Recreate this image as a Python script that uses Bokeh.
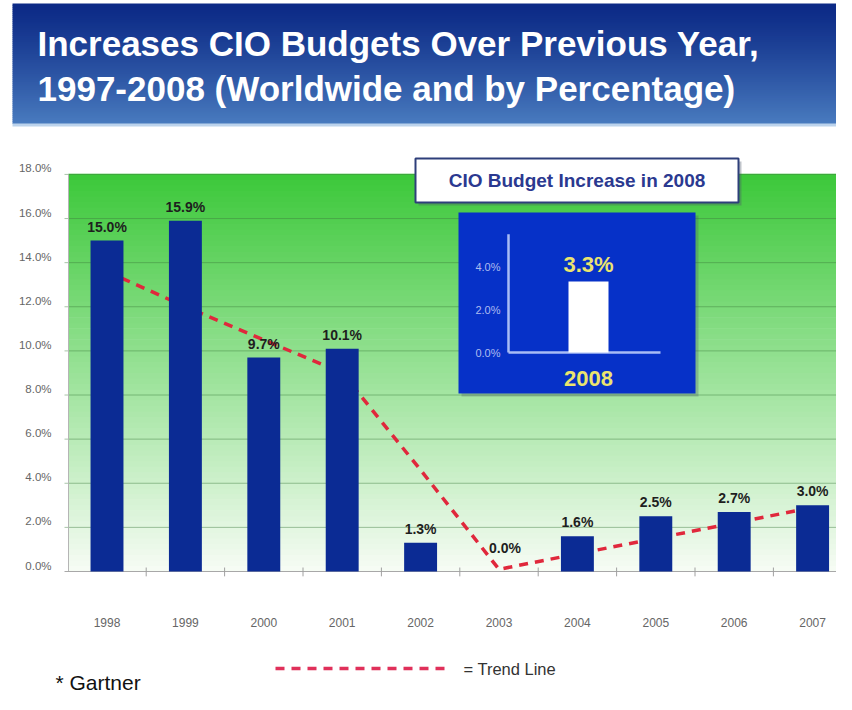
import numpy as np
from bokeh.plotting import figure
from bokeh.models import Range1d, ColumnDataSource
from bokeh.core.properties import value
from bokeh.embed import file_html
from bokeh.resources import INLINE

# ---------------- data ----------------
years = ["1998", "1999", "2000", "2001", "2002", "2003", "2004", "2005", "2006", "2007"]
increase = [15.0, 15.9, 9.7, 10.1, 1.3, 0.0, 1.6, 2.5, 2.7, 3.0]
trend = [13.6, 12.0, 10.5, 9.0, 4.6, 0.1, 0.8, 1.5, 2.2, 2.9]
y_ticks = [0, 2, 4, 6, 8, 10, 12, 14, 16, 18]
y_tick_labels = ["0.0%", "2.0%", "4.0%", "6.0%", "8.0%", "10.0%", "12.0%", "14.0%", "16.0%", "18.0%"]

inset_years = ["2008"]
inset_values = [3.3]
inset_ticks = [0, 2, 4]
inset_tick_labels = ["0.0%", "2.0%", "4.0%"]

title_lines = ["Increases CIO Budgets Over Previous Year,",
               "1997-2008 (Worldwide and by Percentage)"]
inset_title = "CIO Budget Increase in 2008"
legend_text = "= Trend Line"
source_note = "* Gartner"

# ---------------- layout (page pixels, y downward) ----------------
W, H = 836, 694
PLOT_L, PLOT_R = 68, W
ZERO_Y = 571.0
PX_PER_PCT = 22.06
CAT0_X = 106.5
CAT_STEP = 78.4

INSET_ZERO_Y = 352.0
INSET_PX_PER_PCT = 21.5
INSET_CAT_X = 588.0
INSET_STEP = 80.0

FONT = value("Liberation Sans")

p = figure(width=W, height=H, x_range=Range1d(0, W), y_range=Range1d(H, 0),
           x_axis_type=None, y_axis_type=None, output_backend="svg",
           toolbar_location=None, min_border=0, outline_line_color=None,
           background_fill_color="white", border_fill_color="white")
p.grid.visible = False

p.extra_x_ranges = {
    "yr": Range1d(-CAT0_X / CAT_STEP, (W - CAT0_X) / CAT_STEP),
    "ix": Range1d(-INSET_CAT_X / INSET_STEP, (W - INSET_CAT_X) / INSET_STEP),
}
p.extra_y_ranges = {
    "pct": Range1d((ZERO_Y - H) / PX_PER_PCT, ZERO_Y / PX_PER_PCT),
    "iy": Range1d((INSET_ZERO_Y - H) / INSET_PX_PER_PCT, INSET_ZERO_Y / INSET_PX_PER_PCT),
}


def blend(c0, c1, t):
    return "#%02x%02x%02x" % tuple(int(round(a + (b - a) * t)) for a, b in zip(c0, c1))


# ---------------- banner ----------------
nb = 60
bedges = np.linspace(3, 123, nb + 1)
bcols = [blend((12, 42, 134), (72, 122, 190), (k / (nb - 1)) ** 1.2) for k in range(nb)]
p.quad(left=12, right=W, top=bedges[:-1], bottom=bedges[1:] + 0.6, fill_color=bcols, line_color=None)
p.quad(left=12, right=W, top=123, bottom=126, fill_color="#bcd3ec", line_color=None)
p.text(x=[37, 37], y=[43, 88], text=title_lines, text_color="white", text_font=FONT,
       text_font_style="bold", text_font_size="35px", text_baseline="middle", text_align="left")

# ---------------- main plot background gradient ----------------
ng = 72
top_val = y_ticks[-1]
gedges = np.linspace(0, top_val, ng + 1)
gcols = [blend((247, 252, 245), (60, 200, 58), (k + 0.5) / ng) for k in range(ng)]
p.quad(left=PLOT_L, right=PLOT_R, bottom=gedges[:-1], top=gedges[1:] + 0.03,
       fill_color=gcols, line_color=None, y_range_name="pct")

# gridlines
p.segment(x0=PLOT_L - 4, x1=PLOT_R, y0=y_ticks[1:], y1=y_ticks[1:], line_color="#3d7d3d",
          line_alpha=0.45, line_width=1, y_range_name="pct")
# axis lines
p.segment(x0=PLOT_L, x1=PLOT_L, y0=0, y1=top_val, line_color="#b5b5b5", line_width=1, y_range_name="pct")
p.segment(x0=PLOT_L - 4, x1=PLOT_R, y0=0, y1=0, line_color="#a8a8a8", line_width=1, y_range_name="pct")
idx = list(range(len(years)))
bounds = [i + 0.5 for i in idx[:-1]]
p.segment(x0=bounds, x1=bounds, y0=-0.22, y1=0.18, line_color="#a0a0a0", line_width=1,
          x_range_name="yr", y_range_name="pct")

# y tick labels
p.text(x=PLOT_L - 17, y=y_ticks, text=y_tick_labels, y_range_name="pct", text_color="#666666",
       text_font=FONT, text_font_size="11.5px", text_align="right", text_baseline="middle", y_offset=-6)
# x tick labels
p.text(x=idx, y=[0] * len(idx), text=years, x_range_name="yr", y_range_name="pct",
       text_color="#666666", text_font=FONT, text_font_size="12px", text_align="center",
       text_baseline="middle", y_offset=51)

# trend line (behind bars)
p.line(x=idx, y=trend, x_range_name="yr", y_range_name="pct", line_color="#e0283c",
       line_width=3.5, line_dash="9 7")

# bars
src = ColumnDataSource(dict(i=idx, v=increase))
p.vbar(x="i", top="v", width=0.42, source=src, x_range_name="yr", y_range_name="pct",
       fill_color="#0b2b94", line_color=None)

nz = [k for k, v in enumerate(increase) if v > 0]
zz = [k for k, v in enumerate(increase) if v == 0]
p.text(x=[idx[k] for k in nz], y=[increase[k] for k in nz], text=[f"{increase[k]:.1f}%" for k in nz],
       x_range_name="yr", y_range_name="pct", text_color="#1e1e1e", text_font=FONT,
       text_font_style="bold", text_font_size="14px", text_align="center", text_baseline="middle",
       y_offset=-14)
p.text(x=[idx[k] for k in zz], y=[increase[k] for k in zz], text=[f"{increase[k]:.1f}%" for k in zz],
       x_range_name="yr", y_range_name="pct", text_color="#1e1e1e", text_font=FONT,
       text_font_style="bold", text_font_size="14px", text_align="center", text_baseline="middle",
       y_offset=-24, x_offset=6)

# ---------------- inset ----------------
# title box
p.quad(left=418, right=741, top=161, bottom=205, fill_color="#4a5568", fill_alpha=0.35, line_color=None)
p.quad(left=415, right=738, top=158, bottom=202, fill_color="white", line_color="#2e3f7a", line_width=2)
p.text(x=[576.5], y=[180], text=[inset_title], text_color="#2b3990", text_font=FONT,
       text_font_style="bold", text_font_size="19px", text_align="center", text_baseline="middle")
# blue panel
p.quad(left=461, right=698, top=215, bottom=396, fill_color="#4a5568", fill_alpha=0.3, line_color=None)
p.quad(left=458, right=695, top=212, bottom=393, fill_color="#0631c8", line_color=None)
# inset axes
p.segment(x0=508, x1=508, y0=0, y1=5.5, line_color="#a9bcf5", line_width=2.5, y_range_name="iy")
p.segment(x0=508, x1=660, y0=0, y1=0, line_color="#a9bcf5", line_width=2.5, y_range_name="iy")
p.text(x=500, y=inset_ticks, text=inset_tick_labels, y_range_name="iy", text_color="#aebcf0",
       text_font=FONT, text_font_size="11px", text_align="right", text_baseline="middle")
# inset bar
p.vbar(x=[0], top=inset_values, width=0.5, x_range_name="ix", y_range_name="iy",
       fill_color="white", line_color=None)
p.text(x=[0], y=inset_values, text=[f"{v:.1f}%" for v in inset_values], x_range_name="ix",
       y_range_name="iy", text_color="#ebe46e", text_font=FONT, text_font_style="bold",
       text_font_size="22px", text_align="center", text_baseline="middle", y_offset=-17)
p.text(x=[0], y=[0], text=inset_years, x_range_name="ix", y_range_name="iy",
       text_color="#ebe46e", text_font=FONT, text_font_style="bold", text_font_size="22px",
       text_align="center", text_baseline="middle", y_offset=26)

# ---------------- legend & source ----------------
p.line(x=[275, 450], y=[668, 668], line_color="#e0305a", line_width=3.5, line_dash="9 7")
p.text(x=[463], y=[668], text=[legend_text], text_color="#333333", text_font=FONT,
       text_font_size="16.5px", text_align="left", text_baseline="middle")
p.text(x=[55], y=[693], text=[source_note], text_color="#111111", text_font=FONT,
       text_font_size="21px", text_align="left", text_baseline="bottom")

open("out.html", "w").write(file_html(p, INLINE))
